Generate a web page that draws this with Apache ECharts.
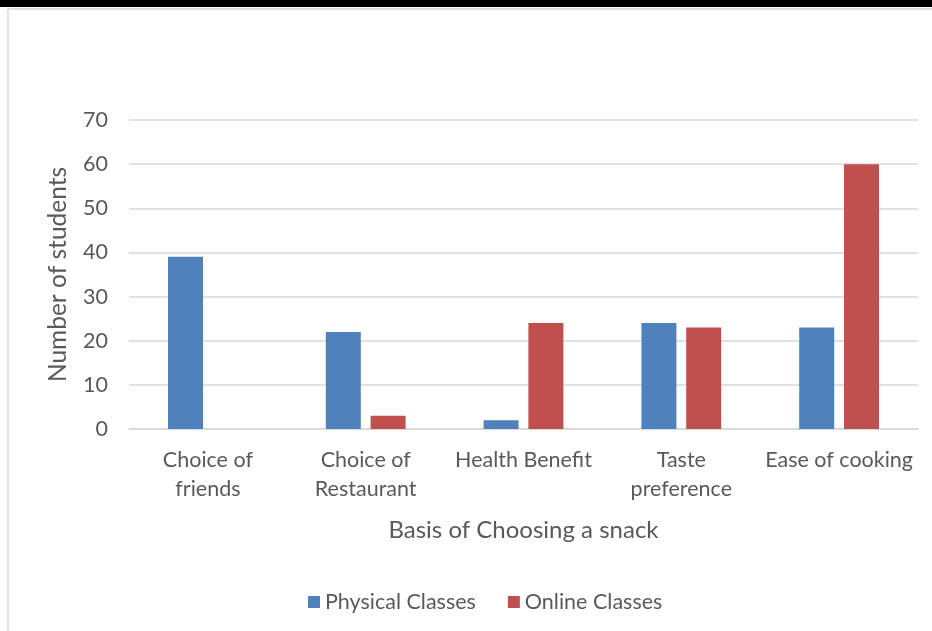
<!DOCTYPE html>
<html>
<head>
<meta charset="utf-8">
<script src="https://cdn.jsdelivr.net/npm/echarts@6/dist/echarts.min.js"></script>
<style>
  html, body { margin: 0; padding: 0; background: #fff; }
  #chart { width: 932px; height: 631px; }
</style>
</head>
<body>
<div id="chart"></div>
<script>
// Basis for choosing a snack, by class mode
const categories = ['Choice of\nfriends', 'Choice of\nRestaurant', 'Health Benefit', 'Taste\npreference', 'Ease of cooking'];
const physicalClasses = [39, 22, 2, 24, 23];
const onlineClasses = [0, 3, 24, 23, 60];
const seriesNames = ['Physical Classes', 'Online Classes'];

const FONT = 'Lato, "Open Sans", sans-serif';
const TEXT = '#595959';

const chart = echarts.init(document.getElementById('chart'), null, { renderer: 'canvas' });
chart.setOption({
  backgroundColor: '#fff',
  animation: false,
  textStyle: { fontFamily: FONT },
  graphic: [
    { type: 'rect', shape: { x: 0, y: 0, width: 932, height: 7 }, style: { fill: '#000' } },
    { type: 'line', shape: { x1: 8, y1: 9, x2: 932, y2: 9 }, style: { stroke: '#d9d9d9', lineWidth: 1.5 } },
    { type: 'line', shape: { x1: 8, y1: 9, x2: 8, y2: 631 }, style: { stroke: '#d9d9d9', lineWidth: 1.5 } }
  ],
  legend: {
    data: seriesNames,
    left: 303,
    top: 586,
    itemWidth: 12,
    itemHeight: 12,
    itemGap: 32,
    icon: 'rect',
    textStyle: { color: TEXT, fontSize: 21.5, fontFamily: FONT }
  },
  grid: { left: 129, right: 14, top: 120, bottom: 202, containLabel: false },
  xAxis: {
    type: 'category',
    data: categories,
    name: 'Basis of Choosing a snack',
    nameLocation: 'middle',
    nameGap: 89,
    nameTextStyle: { color: TEXT, fontSize: 24, fontFamily: FONT },
    axisLine: { show: true, lineStyle: { color: '#d9d9d9', width: 1.5 } },
    axisTick: { show: false },
    axisLabel: { color: TEXT, fontSize: 21.5, lineHeight: 29, margin: 17, interval: 0, fontFamily: FONT }
  },
  yAxis: {
    type: 'value',
    min: 0,
    max: 70,
    interval: 10,
    name: 'Number of students',
    nameLocation: 'middle',
    nameGap: 58,
    nameTextStyle: { color: TEXT, fontSize: 24.5, fontFamily: FONT },
    axisLine: { show: false },
    axisTick: { show: false },
    axisLabel: { color: TEXT, fontSize: 21.5, margin: 21, fontFamily: FONT },
    splitLine: { lineStyle: { color: '#d9d9d9', width: 1.5 } }
  },
  series: [
    {
      name: seriesNames[0],
      type: 'bar',
      data: physicalClasses,
      barWidth: 35,
      barGap: '28%',
      itemStyle: { color: '#4F81BD' }
    },
    {
      name: seriesNames[1],
      type: 'bar',
      data: onlineClasses,
      barWidth: 35,
      barGap: '28%',
      itemStyle: { color: '#C0504D' }
    }
  ]
});
</script>
</body>
</html>
